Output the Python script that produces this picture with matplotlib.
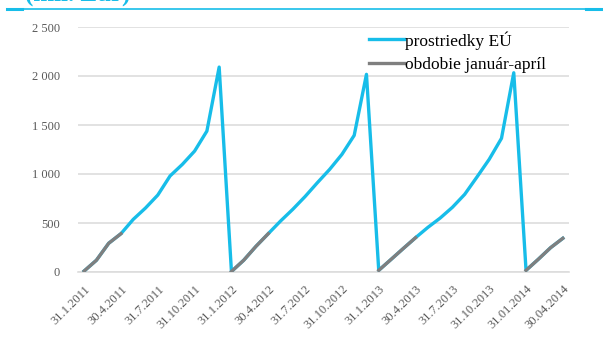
import matplotlib
matplotlib.use("Agg")
import matplotlib.pyplot as plt
import numpy as np
from matplotlib.lines import Line2D

# ---- data ----
dates = [
    "31.1.2011", "28.2.2011", "31.3.2011", "30.4.2011", "31.5.2011", "30.6.2011",
    "31.7.2011", "31.8.2011", "30.9.2011", "31.10.2011", "30.11.2011", "31.12.2011",
    "31.1.2012", "29.2.2012", "31.3.2012", "30.4.2012", "31.5.2012", "30.6.2012",
    "31.7.2012", "31.8.2012", "30.9.2012", "31.10.2012", "30.11.2012", "31.12.2012",
    "31.1.2013", "28.2.2013", "31.3.2013", "30.4.2013", "31.5.2013", "30.6.2013",
    "31.7.2013", "31.8.2013", "30.9.2013", "31.10.2013", "30.11.2013", "31.12.2013",
    "31.01.2014", "28.02.2014", "31.03.2014", "30.04.2014",
]
eu_funds = [
    10, 120, 293, 391, 537, 653, 785, 980, 1098, 1234, 1438, 2091,
    5, 120, 262, 391, 520, 640, 770, 911, 1047, 1200, 1394, 2017,
    17, 128, 240, 350, 455, 550, 660, 792, 969, 1150, 1364, 2033,
    17, 130, 248, 344,
]
jan_apr_months = [1, 2, 3, 4]
tick_every = 3
y_ticks = [0, 500, 1000, 1500, 2000, 2500]
series_names = ["prostriedky EÚ", "obdobie január-apríl"]
title = "(mil. Eur)"

# ---- derived ----
n = len(dates)
x = np.arange(n)
months = [int(d.split(".")[1]) for d in dates]
eu = np.array(eu_funds, dtype=float)
janapr = np.where(np.isin(months, jan_apr_months), eu, np.nan)

BLUE = "#17BDE9"
GRAY = "#7F7F7F"
GRID = "#DDDDDD"
TXT = "#595959"
SERIF = ["Liberation Serif", "DejaVu Serif"]

W, H = 603, 340
fig = plt.figure(figsize=(W / 100, H / 100), dpi=100)
ax = fig.add_axes([78 / W, 1 - 272 / H, (569 - 78) / W, (272 - 27) / H])

ax.plot(x, eu, color=BLUE, lw=2.4, solid_joinstyle="round", zorder=3)
ax.plot(x, janapr, color=GRAY, lw=2.4, solid_joinstyle="round", zorder=4)

ax.set_xlim(-0.5, n - 0.5)
ax.set_ylim(0, 2500)
ax.set_yticks(y_ticks)
ax.set_yticklabels([f"{v:,}".replace(",", " ") for v in y_ticks],
                   fontfamily=SERIF, fontsize=9, color=TXT)
ax.yaxis.grid(True, color=GRID, lw=1.2)
ax.set_axisbelow(True)
tick_idx = list(range(0, n, tick_every))
ax.set_xticks(tick_idx)
ax.set_xticklabels([dates[i] for i in tick_idx], rotation=45, ha="right",
                   rotation_mode="anchor", fontfamily=SERIF, fontsize=9, color=TXT)
ax.tick_params(axis="both", length=0)
ax.tick_params(axis="y", pad=13)
ax.tick_params(axis="x", pad=8)
for s in ["top", "right", "left"]:
    ax.spines[s].set_visible(False)
ax.spines["bottom"].set_color(GRID)
ax.spines["bottom"].set_linewidth(1.2)

handles = [Line2D([], [], color=BLUE, lw=2.4), Line2D([], [], color=GRAY, lw=2.4)]
leg = fig.legend(handles, series_names, loc="upper left",
                 bbox_to_anchor=(369 / W, 1 - 31 / H), frameon=False,
                 prop={"family": SERIF, "size": 12.5}, handlelength=2.0,
                 handletextpad=0.05, labelspacing=0.42, borderpad=0, borderaxespad=0)

# header decoration
fig.text(25 / W, 1 - 1 / H, title, color=BLUE, fontsize=18, fontweight="bold",
         fontfamily=SERIF, ha="left", va="baseline")
fig.add_artist(Line2D([7 / W, 1], [1 - 8.5 / H] * 2, color=BLUE, lw=1.2))
fig.add_artist(Line2D([7 / W, 22 / W], [1 - 9 / H] * 2, color=BLUE, lw=2.2))
fig.add_artist(Line2D([586 / W, 1], [1 - 9 / H] * 2, color=BLUE, lw=2.2))

fig.savefig("out.png", dpi=100)
